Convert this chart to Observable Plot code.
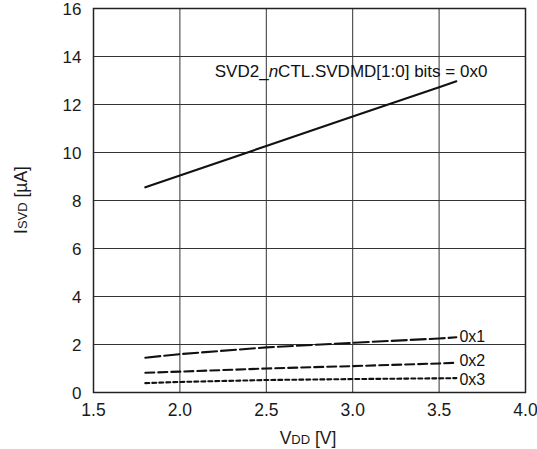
<!DOCTYPE html>
<html><head><meta charset="utf-8">
<script src="https://cdn.jsdelivr.net/npm/d3@7"></script>
<script src="https://cdn.jsdelivr.net/npm/@observablehq/plot@0.6"></script>
<style>body{margin:0;background:#fff}</style>
</head><body><div id="chart"></div>
<script>
const vdd = [1.8, 2.0, 2.5, 3.0, 3.5, 3.6];
const isvd0x0 = [8.55, 9.04, 10.27, 11.5, 12.72, 12.97];
const isvd0x1 = [1.45, 1.6, 1.88, 2.07, 2.25, 2.3];
const isvd0x2 = [0.82, 0.87, 1.0, 1.1, 1.21, 1.24];
const isvd0x3 = [0.39, 0.44, 0.52, 0.56, 0.59, 0.6];
const seriesNames = ["0x0", "0x1", "0x2", "0x3"];
const xTicks = [1.5, 2.0, 2.5, 3.0, 3.5, 4.0];
const yTicks = [0, 2, 4, 6, 8, 10, 12, 14, 16];

const allSeries = [isvd0x0, isvd0x1, isvd0x2, isvd0x3];
const rows = allSeries.map((vals, i) => vals.map((v, j) => ({series: seriesNames[i], x: vdd[j], y: v})));
const ends = rows.map(r => r[r.length - 1]);
const dashes = [null, "15,4", "9,4", "4,3"];
const labelDy = [0, 0, -1.5, 1.5];

const font = "'Liberation Sans', Arial, Helvetica, sans-serif";
const plot = Plot.plot({
  width: 537, height: 449,
  marginLeft: 93, marginRight: 12, marginTop: 8, marginBottom: 57,
  style: {fontFamily: font, fontSize: "17px", color: "#1a1a1a", background: "#fff"},
  x: {domain: [1.5, 4.0]},
  y: {domain: [0, 16]},
  marks: [
    Plot.gridX(xTicks, {stroke: "#333", strokeOpacity: 1, strokeWidth: 1}),
    Plot.gridY(yTicks, {stroke: "#333", strokeOpacity: 1, strokeWidth: 1}),
    Plot.axisX(xTicks, {tickFormat: d3.format(".1f"), tickSize: 0, tickPadding: 11, fontSize: 17.5, label: null, fill: "#1a1a1a"}),
    Plot.axisY(yTicks, {tickSize: 0, tickPadding: 12, fontSize: 17, dy: 1.5, label: null, fill: "#1a1a1a"}),
    Plot.frame({stroke: "#222", strokeWidth: 1.5}),
    ...rows.map((r, i) => Plot.line(r, {x: "x", y: "y", stroke: "#111", strokeWidth: 2.1, strokeDasharray: dashes[i]})),
    ...ends.slice(1).map((e, k) => Plot.text([e], {x: "x", y: "y", text: "series", textAnchor: "start", dx: 3, dy: labelDy[k + 1], fontSize: 16, fill: "#111"})),
    Plot.text([ends[0]], {x: "x", y: "y", text: d => "SVD2_nCTL.SVDMD[1:0] bits = " + d.series, textAnchor: "end", dx: 31, dy: -10, fontSize: 17, fill: "#111"})
  ]
});
document.getElementById("chart").appendChild(plot);

const svg = d3.select(plot);
// italic n in main label
svg.selectAll("text").filter(function() { return (this.textContent || "").startsWith("SVD2_n"); })
  .each(function() {
    const t = d3.select(this);
    const full = this.textContent;
    t.text(null);
    t.append("tspan").text("SVD2_");
    t.append("tspan").attr("font-style", "italic").text("n");
    t.append("tspan").text(full.slice(6));
  });

// axis titles with smaller subscript-style letters
const xl = svg.append("text").attr("x", 308).attr("y", 444).attr("text-anchor", "middle")
  .attr("font-size", 17.5).attr("fill", "#1a1a1a");
xl.append("tspan").text("V");
xl.append("tspan").attr("font-size", 13).text("DD");
xl.append("tspan").text(" [V]");

const yl = svg.append("text").attr("transform", "translate(27,200) rotate(-90)").attr("text-anchor", "middle")
  .attr("font-size", 17.5).attr("fill", "#1a1a1a");
yl.append("tspan").text("I");
yl.append("tspan").attr("font-size", 13).text("SVD");
yl.append("tspan").text(" [µA]");
</script></body></html>
